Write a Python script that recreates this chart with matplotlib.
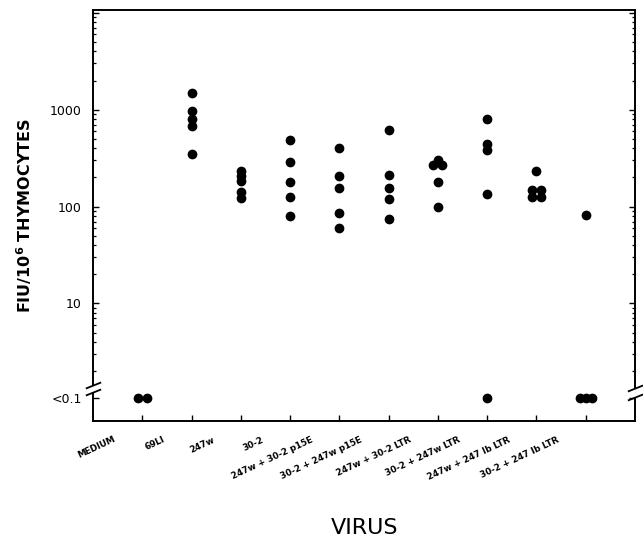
import matplotlib
matplotlib.use("Agg")
import matplotlib.pyplot as plt
import matplotlib.transforms as mtransforms
from matplotlib.patches import Rectangle
from matplotlib.ticker import FixedLocator, NullFormatter, FixedFormatter

# ---------------- data ----------------
categories = ["MEDIUM", "69LI", "247w", "30-2",
              "247w + 30-2 p15E", "30-2 + 247w p15E",
              "247w + 30-2 LTR", "30-2 + 247w LTR",
              "247w + 247 Ib LTR", "30-2 + 247 Ib LTR"]

LT = "<0.1"  # below detection limit
values = [
    [LT, LT],
    [1500, 960, 800, 680, 350],
    [235, 205, 185, 142, 122],
    [485, 285, 180, 125, 80],
    [405, 205, 155, 86, 60],
    [615, 212, 154, 120, 75],
    [305, 270, 270, 180, 100],
    [810, 445, 380, 134, LT],
    [235, 148, 148, 125, 125],
    [82, LT, LT, LT],
]
# side-by-side placement of touching dots (in dot half-widths)
sides = [
    [-1, 1],
    [0, 0, 0, 0, 0],
    [0, 0, 0, 0, 0],
    [0, 0, 0, 0, 0],
    [0, 0, 0, 0, 0],
    [0, 0, 0, 0, 0],
    [0, -1, 1, 0, 0],
    [0, 0, 0, 0, 0],
    [0, -1, 1, -1, 1],
    [0, -1.4, 0, 1.4],
]
y_ticks = [10, 100, 1000]
y_ticklabels = ["10", "100", "1000"]

# ---------------- layout ----------------
W, H = 643, 539
fig = plt.figure(figsize=(W / 100, H / 100), dpi=100)
ax = fig.add_axes([93 / W, 1 - 421 / H, (635 - 93) / W, (421 - 10) / H])

ax.set_yscale("log")
ax.set_xlim(0, 11)
ax.set_ylim(0.61, 10700)
LT_POS = 1.05  # where "<0.1" sits on the axis
STEP = 0.09

xs, ys = [], []
for i, (vals, sd) in enumerate(zip(values, sides)):
    for v, s in zip(vals, sd):
        xs.append(i + 1 + s * STEP)
        ys.append(LT_POS if v == LT else v)
ax.plot(xs, ys, "o", color="black", markersize=6.0, linestyle="none",
        clip_on=False, zorder=4)

# y ticks
majors = [LT_POS] + y_ticks + [10000]
ax.yaxis.set_major_locator(FixedLocator(majors))
ax.yaxis.set_major_formatter(FixedFormatter(["<0.1"] + y_ticklabels + [""]))
minors = [m * 10 ** k for k in range(0, 4) for m in range(2, 10)]
ax.yaxis.set_minor_locator(FixedLocator(minors))
ax.yaxis.set_minor_formatter(NullFormatter())

ax.set_xticks(range(1, len(categories) + 1))
ax.set_xticklabels([""] * len(categories))

ax.tick_params(axis="y", which="major", direction="in", length=4.5, width=1.0,
               left=True, right=True, labelsize=9, pad=8)
ax.tick_params(axis="y", which="minor", direction="in", length=2.5, width=0.9,
               left=True, right=True)
ax.tick_params(axis="x", which="major", direction="in", length=4, width=1.0,
               bottom=True, top=False)
for sp in ax.spines.values():
    sp.set_linewidth(1.4)

# category labels, rotated
xblend = mtransforms.blended_transform_factory(ax.transData, ax.transAxes)
for i, lab in enumerate(categories):
    ax.annotate(lab, xy=(i + 1, 0), xycoords=xblend,
                xytext=(-29, -14), textcoords="offset pixels",
                rotation=25, rotation_mode="anchor", ha="right", va="top",
                fontsize=6.3, fontweight="bold", annotation_clip=False)

# axis break marks
yblend = mtransforms.blended_transform_factory(ax.transAxes, ax.transData)
for xa, ylo, yhi in [(0, 1.22, 1.45), (1, 1.07, 1.33)]:
    ax.add_patch(Rectangle((xa - 0.006, ylo), 0.012, yhi - ylo, transform=yblend,
                           facecolor="white", edgecolor="none", clip_on=False,
                           zorder=5))
    for yy in (ylo, yhi):
        ax.plot([xa], [yy], transform=yblend, marker=[(-1, -0.4), (1, 0.4)],
                markersize=11, markeredgewidth=1.3, color="black",
                clip_on=False, zorder=6, linestyle="none")

ax.set_ylabel(r"FIU/10$^{\mathbf{6}}$ THYMOCYTES", fontsize=11.5,
              fontweight="bold")
ax.yaxis.set_label_coords(-0.109, 0.5)

fig.text(365 / W, 1 - 527.5 / H, "VIRUS", fontsize=16, ha="center",
         va="center")

fig.savefig("out.png", dpi=100)
